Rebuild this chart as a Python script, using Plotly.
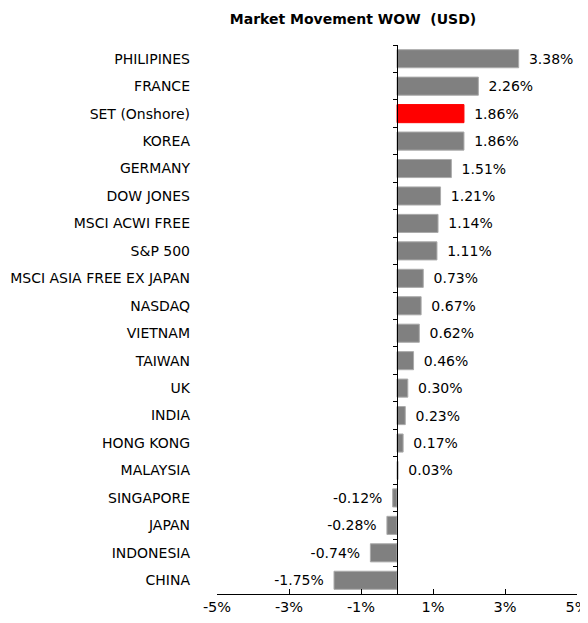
import plotly.graph_objects as go

countries = ["PHILIPINES", "FRANCE", "SET (Onshore)", "KOREA", "GERMANY", "DOW JONES",
             "MSCI ACWI FREE", "S&P 500", "MSCI ASIA FREE EX JAPAN", "NASDAQ", "VIETNAM",
             "TAIWAN", "UK", "INDIA", "HONG KONG", "MALAYSIA", "SINGAPORE", "JAPAN",
             "INDONESIA", "CHINA"]
changes = [3.38, 2.26, 1.86, 1.86, 1.51, 1.21, 1.14, 1.11, 0.73, 0.67, 0.62,
           0.46, 0.30, 0.23, 0.17, 0.03, -0.12, -0.28, -0.74, -1.75]
tick_vals = [-5, -3, -1, 1, 3, 5]
tick_text = ["-5%", "-3%", "-1%", "1%", "3%", "5%"]
highlight = "SET (Onshore)"

FONT = "DejaVu Sans"
W, H = 580, 615  # page body adds an 8px margin
colors = ["#FF0000" if c == highlight else "#808080" for c in countries]
line_colors = ["#FF0000" if c == highlight else "#ABABAB" for c in countries]
pad = "\u00a0\u2009"
labels = [(pad + f"{v:.2f}%") if v >= 0 else (f"{v:.2f}%" + pad) for v in changes]
y_range = [len(countries) - 0.5, -0.5]

fig = go.Figure()
fig.add_trace(go.Bar(
    x=changes, y=countries, orientation="h",
    marker=dict(color=colors, line=dict(color=line_colors, width=1)),
    text=labels, textposition="outside",
    textfont=dict(family=FONT, size=14, color="#000000"),
    cliponaxis=False, hoverinfo="x+y",
))
# invisible helper trace so the zero-position axis carries category tick marks
fig.add_trace(go.Bar(
    x=[0] * len(countries), y=countries, yaxis="y2", orientation="h",
    marker=dict(opacity=0), hoverinfo="skip", showlegend=False,
))

fig.update_layout(
    width=W, height=H,
    margin=dict(l=209, r=11, t=37, b=29),
    paper_bgcolor="white", plot_bgcolor="white",
    bargap=0.34,
    showlegend=False,
    font=dict(family=FONT, size=14, color="#000000"),
    title=dict(text="<b>Market Movement WOW  (USD)</b>", x=345 / W, xanchor="center",
               y=1 - 11 / H, yanchor="middle", font=dict(family=FONT, size=14)),
    xaxis=dict(range=[-5, 5], tickvals=tick_vals, ticktext=tick_text, automargin=False,
               showgrid=False, zeroline=False, ticklabeloverflow="allow",
               showline=True, linecolor="#000000", linewidth=1,
               ticks="inside", ticklen=5, tickcolor="#000000",
               tickfont=dict(size=14.5)),
    yaxis=dict(range=y_range, autorange=False, showgrid=False, showline=False,
               automargin=False, categoryorder="array", categoryarray=countries,
               ticks="", ticklabelstandoff=26, tickfont=dict(size=14)),
    yaxis2=dict(overlaying="y", matches="y", anchor="free", position=0.5, side="left",
                range=y_range, autorange=False,
                categoryorder="array", categoryarray=countries,
                showgrid=False, zeroline=False, showticklabels=False, automargin=False,
                showline=True, linecolor="#000000", linewidth=1,
                ticks="outside", ticklen=4, tickcolor="#000000", tickson="boundaries"),
)

fig.write_html("out.html")
